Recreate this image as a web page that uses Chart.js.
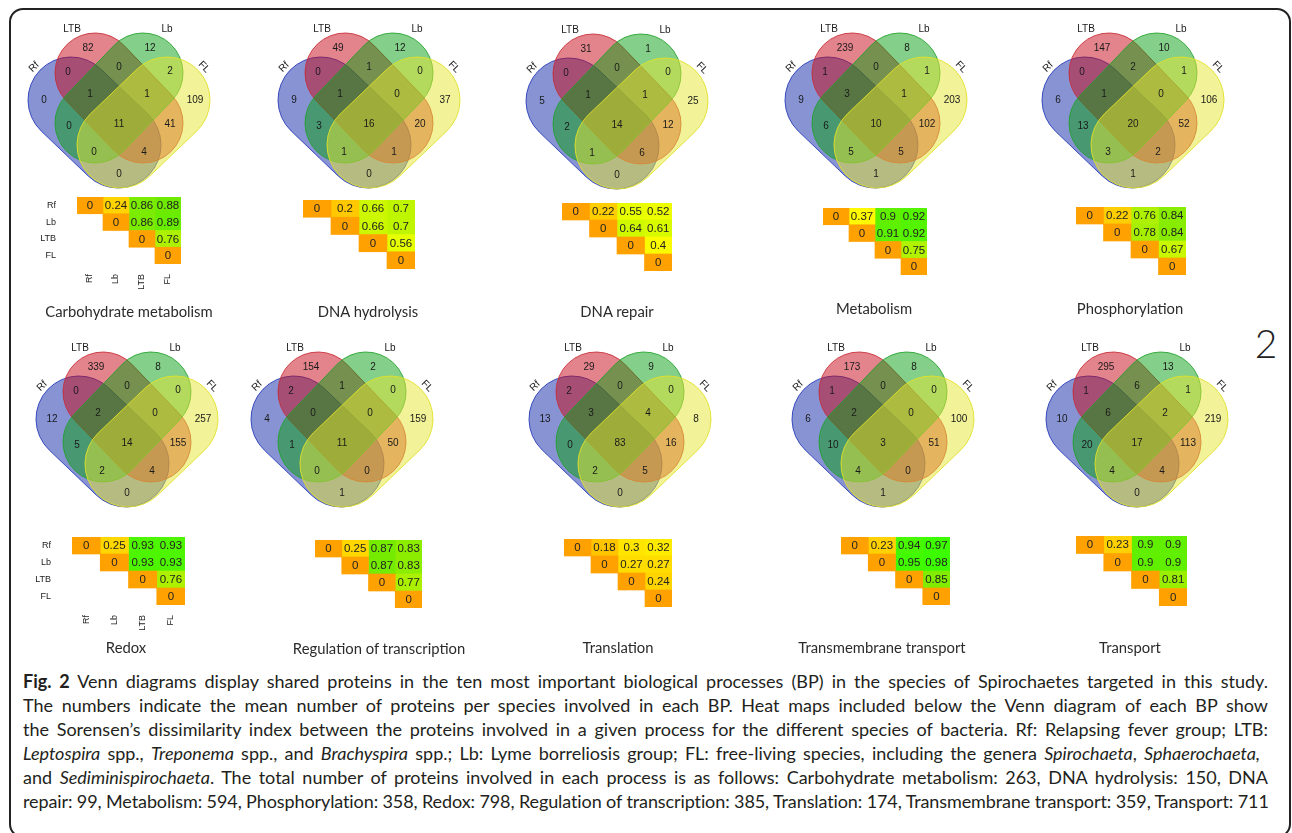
<!DOCTYPE html>
<html>
<head>
<meta charset="utf-8">
<title>Fig. 2 Venn diagrams</title>
<script src="https://cdn.jsdelivr.net/npm/chart.js@4.4.1/dist/chart.umd.min.js"></script>
<style>
  html, body { margin: 0; padding: 0; background: #fff; }
  body { width: 1292px; height: 833px; position: relative; overflow: hidden; font-family: Lato, "Open Sans", sans-serif; color: #231f20; }
  #frame { position: absolute; left: 9px; top: 8px; width: 1282px; height: 830px; border: 2px solid #222; border-radius: 14px; box-sizing: border-box; }
  canvas { position: absolute; }
  .title { position: absolute; font-size: 14.8px; transform: translate(-50%, -50%); white-space: nowrap; color: #2b2b2b; }
  #bigNum { position: absolute; left: 1266px; top: 343px; transform: translate(-50%, -50%); font-size: 39px; font-weight: 300; color: #222; }
  #caption { position: absolute; left: 23px; top: 669px; width: 1245px; font-size: 18px; line-height: 24px; }
  #caption div { white-space: nowrap; }
</style>
</head>
<body>
<div id="frame"></div>
<div id="bigNum">2</div>
<div id="caption">
<div><span class="line" data-w="1245"><b>Fig. 2</b> Venn diagrams display shared proteins in the ten most important biological processes (BP) in the species of Spirochaetes targeted in this study.</span></div>
<div><span class="line" data-w="1245">The numbers indicate the mean number of proteins per species involved in each BP. Heat maps included below the Venn diagram of each BP show</span></div>
<div><span class="line" data-w="1245">the Sorensen’s dissimilarity index between the proteins involved in a given process for the different species of bacteria. Rf: Relapsing fever group; LTB:</span></div>
<div><span class="line" data-w="1237"><i>Leptospira</i> spp., <i>Treponema</i> spp., and <i>Brachyspira</i> spp.; Lb: Lyme borreliosis group; FL: free-living species, including the genera <i>Spirochaeta</i>, <i>Sphaerochaeta,</i></span></div>
<div><span class="line" data-w="1245">and <i>Sediminispirochaeta</i>. The total number of proteins involved in each process is as follows: Carbohydrate metabolism: 263, DNA hydrolysis: 150, DNA</span></div>
<div><span class="line" data-w="1247">repair: 99, Metabolism: 594, Phosphorylation: 358, Redox: 798, Regulation of transcription: 385, Translation: 174, Transmembrane transport: 359, Transport: 711</span></div>
</div>
<script>
document.addEventListener('DOMContentLoaded', () => {
    Chart.defaults.font.family = '"Liberation Sans", Arial, sans-serif';
    Chart.defaults.color = '#222';
    Chart.defaults.animation = false;

    // ---- data ----
    const setNames = ['Rf', 'LTB', 'Lb', 'FL'];
    const heatLabels = ['Rf', 'Lb', 'LTB', 'FL'];
    const panelTitles = ['Carbohydrate metabolism', 'DNA hydrolysis', 'DNA repair', 'Metabolism', 'Phosphorylation',
        'Redox', 'Regulation of transcription', 'Translation', 'Transmembrane transport', 'Transport'];

    // Venn counts, region order:
    // LTB, Lb, Rf, FL, Rf&LTB, LTB&Lb, Lb&FL, Rf&LTB&Lb, LTB&Lb&FL, Rf&Lb, all four, LTB&FL, Rf&Lb&FL, Rf&LTB&FL, Rf&FL
    const vennCarbohydrate = [82, 12, 0, 109, 0, 0, 2, 1, 1, 0, 11, 41, 0, 4, 0];
    const vennDnaHydrolysis = [49, 12, 9, 37, 0, 1, 0, 1, 0, 3, 16, 20, 1, 1, 0];
    const vennDnaRepair = [31, 1, 5, 25, 0, 0, 0, 1, 1, 2, 14, 12, 1, 6, 0];
    const vennMetabolism = [239, 8, 9, 203, 1, 0, 1, 3, 1, 6, 10, 102, 5, 5, 1];
    const vennPhosphorylation = [147, 10, 6, 106, 0, 2, 1, 1, 0, 13, 20, 52, 3, 2, 1];
    const vennRedox = [339, 8, 12, 257, 0, 0, 0, 2, 0, 5, 14, 155, 2, 4, 0];
    const vennRegulation = [154, 2, 4, 159, 2, 1, 0, 0, 0, 1, 11, 50, 0, 0, 1];
    const vennTranslation = [29, 9, 13, 8, 2, 0, 0, 3, 4, 0, 83, 16, 2, 5, 0];
    const vennTransmembrane = [173, 8, 6, 100, 1, 0, 0, 2, 0, 10, 3, 51, 4, 0, 1];
    const vennTransport = [295, 13, 10, 219, 1, 6, 1, 6, 2, 20, 17, 113, 4, 4, 0];

    // Sorensen dissimilarity, upper triangle rows (Rf, Lb, LTB, FL)
    const sorCarbohydrate = [[0, 0.24, 0.86, 0.88], [0, 0.86, 0.89], [0, 0.76], [0]];
    const sorDnaHydrolysis = [[0, 0.2, 0.66, 0.7], [0, 0.66, 0.7], [0, 0.56], [0]];
    const sorDnaRepair = [[0, 0.22, 0.55, 0.52], [0, 0.64, 0.61], [0, 0.4], [0]];
    const sorMetabolism = [[0, 0.37, 0.9, 0.92], [0, 0.91, 0.92], [0, 0.75], [0]];
    const sorPhosphorylation = [[0, 0.22, 0.76, 0.84], [0, 0.78, 0.84], [0, 0.67], [0]];
    const sorRedox = [[0, 0.25, 0.93, 0.93], [0, 0.93, 0.93], [0, 0.76], [0]];
    const sorRegulation = [[0, 0.25, 0.87, 0.83], [0, 0.87, 0.83], [0, 0.77], [0]];
    const sorTranslation = [[0, 0.18, 0.3, 0.32], [0, 0.27, 0.27], [0, 0.24], [0]];
    const sorTransmembrane = [[0, 0.23, 0.94, 0.97], [0, 0.95, 0.98], [0, 0.85], [0]];
    const sorTransport = [[0, 0.23, 0.9, 0.9], [0, 0.9, 0.9], [0, 0.81], [0]];

    const vennData = [vennCarbohydrate, vennDnaHydrolysis, vennDnaRepair, vennMetabolism, vennPhosphorylation,
        vennRedox, vennRegulation, vennTranslation, vennTransmembrane, vennTransport];
    const sorData = [sorCarbohydrate, sorDnaHydrolysis, sorDnaRepair, sorMetabolism, sorPhosphorylation,
        sorRedox, sorRegulation, sorTranslation, sorTransmembrane, sorTransport];

    // ---- layout ----
    const regionPos = [[-31, -76], [31, -76], [-75, -24], [76, -24], [-51, -52], [0, -57], [51, -53],
        [-29, -30], [28, -30], [-50, 2], [0, 0], [51, 0], [-25, 28], [25, 28], [0, 50]];
    const setLabelPos = [[-85, -57, -45], [-47, -95, 0], [48, -95, 0], [85, -57, 45]];
    const vennCenters = [[119, 124], [369, 124], [617, 125], [876, 124], [1133, 124],
        [127, 443], [342, 443], [620, 443], [883, 443], [1137, 443]];
    const heatBoxes = [[77, 197, 26, 16.8], [303, 200, 28, 17.3], [562, 202.5, 27.4, 17], [823, 207.7, 26.1, 16.8],
        [1076, 206.5, 27.4, 17], [72, 537, 28.2, 17.1], [314.5, 539.5, 26.8, 17], [563.5, 538.5, 27, 17],
        [841, 536.5, 27.3, 17], [1075.7, 535.7, 27.75, 17.4]];
    const titlePos = [[129, 311], [368, 311], [617, 311], [874, 308], [1130, 308],
        [126, 647], [379, 648], [618, 647], [882, 647], [1130, 647]];

    // rounded (capsule) sets: end-cap centres p and q, cap radius r
    const shapes = [
        { p: [-48, -24], q: [-1, 21], r: 43, fill: 'rgba(16,40,165,0.5)', line: 'rgba(40,60,185,0.9)' },    // Rf
        { p: [-24, -51], q: [24, -1], r: 40, fill: 'rgba(200,10,25,0.5)', line: 'rgba(200,40,50,0.85)' },   // LTB
        { p: [24, -51], q: [-24, -1], r: 40, fill: 'rgba(10,160,20,0.5)', line: 'rgba(30,160,40,0.85)' },   // Lb
        { p: [48, -24], q: [1, 21], r: 43, fill: 'rgba(230,230,50,0.5)', line: 'rgba(225,225,40,0.9)' }     // FL
    ];

    const heatStops = [[0, [255, 161, 0]], [0.2, [255, 200, 0]], [0.37, [255, 250, 0]], [0.55, [232, 255, 0]],
        [0.7, [192, 245, 0]], [0.8, [160, 238, 0]], [0.88, [110, 234, 0]], [0.95, [65, 250, 0]], [1, [55, 255, 0]]];

    function heatColor(v) {
        for (let i = 1; i < heatStops.length; i++) {
            if (v <= heatStops[i][0]) {
                const [v0, c0] = heatStops[i - 1];
                const [v1, c1] = heatStops[i];
                const f = (v - v0) / (v1 - v0);
                return `rgb(${c0.map((c, k) => Math.round(c + (c1[k] - c) * f)).join(',')})`;
            }
        }
        return 'rgb(55,255,0)';
    }

    const vennPlugin = {
        id: 'venn',
        beforeDatasetsDraw(chart) {
            const { ctx, scales: { x, y } } = chart;
            const k = x.getPixelForValue(1) - x.getPixelForValue(0);
            shapes.forEach(s => {
                const px = x.getPixelForValue(s.p[0]), py = y.getPixelForValue(s.p[1]);
                const qx = x.getPixelForValue(s.q[0]), qy = y.getPixelForValue(s.q[1]);
                const t = Math.atan2(qy - py, qx - px);
                const r = s.r * k;
                ctx.save();
                ctx.beginPath();
                ctx.arc(qx, qy, r, t - Math.PI / 2, t + Math.PI / 2);
                ctx.arc(px, py, r, t + Math.PI / 2, t + 3 * Math.PI / 2);
                ctx.closePath();
                ctx.fillStyle = s.fill;
                ctx.fill();
                ctx.lineWidth = 1;
                ctx.strokeStyle = s.line;
                ctx.stroke();
                ctx.restore();
            });
        },
        afterDatasetsDraw(chart) {
            const { ctx, scales: { x, y } } = chart;
            ctx.save();
            ctx.font = '10px "Liberation Sans", Arial, sans-serif';
            ctx.fillStyle = '#1a1a1a';
            ctx.textAlign = 'center';
            ctx.textBaseline = 'middle';
            const meta = chart.getDatasetMeta(0);
            meta.data.forEach((el, i) => {
                ctx.fillText(String(chart.data.datasets[0].data[i].v), el.x, el.y);
            });
            setNames.forEach((name, i) => {
                const [lx, ly, rot] = setLabelPos[i];
                ctx.save();
                ctx.translate(x.getPixelForValue(lx), y.getPixelForValue(ly));
                ctx.rotate(rot * Math.PI / 180);
                ctx.fillText(name, 0, 0);
                ctx.restore();
            });
            ctx.restore();
        }
    };

    function addCanvas(left, top, w, h) {
        const canvas = document.createElement('canvas');
        canvas.width = w;
        canvas.height = h;
        canvas.style.left = left + 'px';
        canvas.style.top = top + 'px';
        document.body.appendChild(canvas);
        return canvas;
    }

    function makeVenn(i) {
        const [cx, cy] = vennCenters[i];
        const canvas = addCanvas(cx - 125, cy - 105, 250, 210);
        new Chart(canvas, {
            type: 'scatter',
            data: {
                datasets: [{
                    data: vennData[i].map((v, k) => ({ x: regionPos[k][0], y: regionPos[k][1], v: v })),
                    pointRadius: 0
                }]
            },
            options: {
                responsive: false,
                events: [],
                layout: { padding: 0 },
                plugins: { legend: { display: false }, tooltip: { enabled: false } },
                scales: {
                    x: { display: false, min: -125, max: 125 },
                    y: { display: false, min: -105, max: 105, reverse: true }
                }
            },
            plugins: [vennPlugin]
        });
    }

    function makeHeat(i) {
        const mat = sorData[i];
        const [x0, y0, cw, ch] = heatBoxes[i];
        const withAxes = i === 0 || i === 5;
        const L = withAxes ? 45 : 0;
        const B = withAxes ? 42 : 0;
        const canvas = addCanvas(Math.round(x0 - L), Math.round(y0), Math.round(cw * 4 + L), Math.round(ch * 4 + B));

        const cellText = {
            id: 'cellText',
            afterDatasetsDraw(chart) {
                const ctx = chart.ctx;
                ctx.save();
                ctx.font = '11.5px "Liberation Sans", Arial, sans-serif';
                ctx.fillStyle = '#222';
                ctx.textAlign = 'center';
                ctx.textBaseline = 'middle';
                chart.data.datasets.forEach((ds, j) => {
                    chart.getDatasetMeta(j).data.forEach((el, row) => {
                        if (row > j) return;
                        const p = el.getProps(['x', 'y', 'base'], true);
                        ctx.fillText(String(mat[row][j - row]), (p.x + p.base) / 2, p.y + 0.5);
                    });
                });
                ctx.restore();
            }
        };

        new Chart(canvas, {
            type: 'bar',
            data: {
                labels: heatLabels,
                datasets: heatLabels.map((name, j) => ({
                    label: name,
                    data: heatLabels.map((r, row) => row <= j ? [j, j + 1] : null),
                    backgroundColor: heatLabels.map((r, row) => row <= j ? heatColor(mat[row][j - row]) : 'transparent'),
                    borderWidth: 0,
                    grouped: false,
                    barPercentage: 1,
                    categoryPercentage: 1
                }))
            },
            options: {
                indexAxis: 'y',
                responsive: false,
                events: [],
                layout: { padding: 0 },
                plugins: { legend: { display: false }, tooltip: { enabled: false } },
                scales: {
                    y: {
                        display: withAxes,
                        grid: { display: false, drawTicks: false },
                        border: { display: false },
                        ticks: { padding: 21, autoSkip: false, font: { size: 9 }, color: '#222' },
                        afterFit: s => { s.width = L; s.paddingTop = 0; s.paddingBottom = 0; }
                    },
                    x: {
                        type: 'linear',
                        min: 0,
                        max: 4,
                        display: withAxes,
                        grid: { display: false, drawTicks: false },
                        border: { display: false },
                        afterBuildTicks: s => { s.ticks = [0.5, 1.5, 2.5, 3.5].map(v => ({ value: v })); },
                        ticks: {
                            callback: v => heatLabels[Math.floor(v)],
                            minRotation: 90,
                            maxRotation: 90,
                            autoSkip: false,
                            padding: 10,
                            font: { size: 9 },
                            color: '#222'
                        },
                        afterFit: s => { s.height = B; s.paddingLeft = 0; s.paddingRight = 0; }
                    }
                }
            },
            plugins: [cellText]
        });
    }

    panelTitles.forEach((title, i) => {
        makeVenn(i);
        makeHeat(i);
        const div = document.createElement('div');
        div.className = 'title';
        div.textContent = title;
        div.style.left = titlePos[i][0] + 'px';
        div.style.top = titlePos[i][1] + 'px';
        document.body.appendChild(div);
    });

    // justify caption lines to the widths of the original
    document.querySelectorAll('#caption .line').forEach(line => {
        const text = line.textContent;
        const spaces = (text.match(/ /g) || []).length;
        const extra = parseFloat(line.dataset.w) - line.getBoundingClientRect().width;
        if (extra >= 0) {
            line.style.wordSpacing = (extra / spaces) + 'px';
        } else {
            line.style.letterSpacing = (extra / text.length) + 'px';
        }
    });
});
</script>
</body>
</html>
